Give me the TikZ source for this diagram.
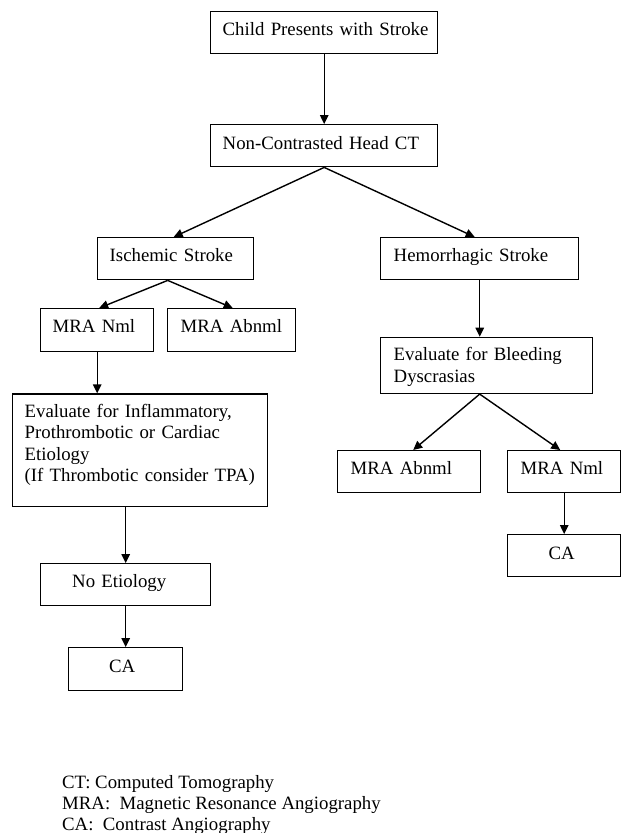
\documentclass[tikz,border=0pt]{standalone}
\usepackage{fontspec}
\setmainfont{Liberation Serif}
\usetikzlibrary{arrows.meta}
\begin{document}
\begin{tikzpicture}[x=1pt,y=-1pt,
  box/.style={draw=black, line width=1.4pt, anchor=north west, align=left,
    inner ysep=0pt, font=\fontsize{18.8}{21.3}\selectfont},
  conn/.style={line width=1.4pt, -{Triangle[length=9pt,width=8.5pt]}},
  legend/.style={anchor=base west, align=left, inner sep=0pt,
    font=\fontsize{18.8}{21}\selectfont}]
\useasboundingbox (0,0) rectangle (622,833);
% boxes: north west corner, width = text width + 2 inner xsep
\node[box, inner xsep=12pt, text width=203pt, text height=23.3pt, text depth=18.7pt] (child) at (210,11) {\mbox{Child Presents with Stroke}};
\node[box, inner xsep=12pt, text width=203pt, text height=24.3pt, text depth=17.7pt] (ct) at (210,124) {\mbox{Non-Contrasted Head CT}};
\node[box, inner xsep=12pt, text width=132pt, text height=24pt, text depth=18pt] (isch) at (97,237) {\mbox{Ischemic Stroke}};
\node[box, inner xsep=13pt, text width=172pt, text height=24pt, text depth=18pt] (hem) at (380,237) {\mbox{Hemorrhagic Stroke}};
\node[box, inner xsep=12pt, text width=89pt, text height=23.7pt, text depth=19.3pt] (mranl) at (40,308) {\mbox{MRA Nml}};
\node[box, inner xsep=13pt, text width=102pt, text height=23.7pt, text depth=19.3pt] (mraal) at (167,308) {\mbox{MRA Abnml}};
\node[box, inner xsep=12pt, text width=231pt, text height=23.4pt, text depth=89.3pt] (evalinf) at (12,393.3) {Evaluate for Inflammatory,\\Prothrombotic or Cardiac\\Etiology\\\mbox{(If Thrombotic consider TPA)}};
\node[box, inner xsep=13pt, text width=186pt, text height=23.3pt, text depth=32.7pt] (bleed) at (380,336.7) {Evaluate for Bleeding\\Dyscrasias};
\node[box, inner xsep=13pt, text width=117pt, text height=23.3pt, text depth=18.7pt] (mraar) at (337,450) {\mbox{MRA Abnml}};
\node[box, inner xsep=13pt, text width=87pt, text height=23.3pt, text depth=18.7pt] (mranr) at (507,450) {\mbox{MRA Nml}};
\node[box, inner xsep=41pt, text width=31pt, text height=24.5pt, text depth=17.5pt] (car) at (507,534) {\mbox{CA}};
\node[box, inner xsep=31.5pt, text width=107pt, text height=23.7pt, text depth=18.3pt] (noet) at (40,563) {\mbox{No Etiology}};
\node[box, inner xsep=40.5pt, text width=33pt, text height=24.7pt, text depth=18.3pt] (cal) at (68,647) {\mbox{CA}};
% legend (base anchor sits on the last line)
\node[legend] (leg) at (62,830) {CT: Computed Tomography\\MRA:\ \ Magnetic Resonance Angiography\\CA:\ \ Contrast Angiography};
% connectors
\draw[conn] (child.south) -- (ct.north);
\draw[conn] (ct.south) -- ([xshift=-2pt]isch.north);
\draw[conn] (ct.south) -- ([xshift=-5pt]hem.north);
\draw[conn] ([xshift=-8pt]isch.south) -- ([xshift=2pt]mranl.north);
\draw[conn] ([xshift=-8pt]isch.south) -- ([xshift=1pt]mraal.north);
\draw[conn] (mranl.south) -- (mranl.south |- evalinf.north);
\draw[conn] (noet.north |- evalinf.south) -- (noet.north);
\draw[conn] (noet.south) -- (cal.north);
\draw[conn] (hem.south) -- (hem.south |- bleed.north);
\draw[conn] (hem.south |- bleed.south) -- ([xshift=4pt]mraar.north);
\draw[conn] (hem.south |- bleed.south) -- ([xshift=-4pt]mranr.north);
\draw[conn] (mranr.south) -- (car.north);
\end{tikzpicture}
\end{document}
